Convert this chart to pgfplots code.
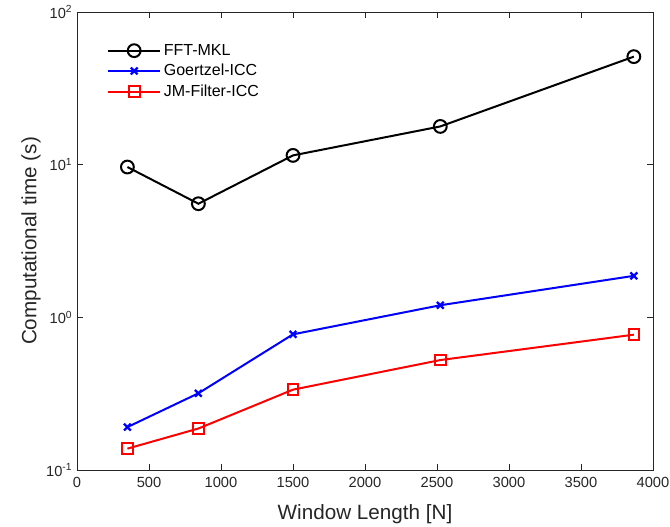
\documentclass[border=0pt]{standalone}
\usepackage{pgfplots}
\pgfplotsset{compat=1.18}
\usepackage{fontspec}
\setmainfont{Liberation Sans}
\definecolor{axgray}{RGB}{38,38,38}
\begin{document}
\begin{tikzpicture}
\begin{axis}[
  scale only axis,
  width=432pt, height=343.5pt,
  ymode=log, log basis y=10,
  xmin=0, xmax=4000, ymin=0.1, ymax=100,
  xtick={0,500,...,4000},
  ytick={0.1,1,10,100},
  yticklabels={10\textsuperscript{-1},10\textsuperscript{0},10\textsuperscript{1},10\textsuperscript{2}},
  /pgf/number format/assume math mode=true,
  /pgf/number format/1000 sep={},
  scaled x ticks=false,
  tick align=inside,
  major tick length=4.5pt, minor tick length=3pt,
  axis line style={axgray, line width=0.6pt},
  every tick/.style={axgray, line width=0.5pt},
  tick label style={font=\fontsize{11}{13}\selectfont, text=axgray},
  xticklabel style={yshift=-2pt},
  xlabel={Window Length [N]},
  ylabel={Computational time (s)},
  every axis x label/.style={at={(axis description cs:0.5,-0.107)}, anchor=base,
    font=\fontsize{15.5}{18}\selectfont, text=axgray},
  every axis y label/.style={at={(axis description cs:-0.08,0.5)}, rotate=90, anchor=center,
    font=\fontsize{15.5}{18}\selectfont, text=axgray},
  legend style={at={(axis description cs:0.045,0.942)}, anchor=north west, draw=none, fill=none,
    font=\fontsize{12}{14}\selectfont, text=black, row sep=1.25pt},
  legend cell align=left,
  legend image code/.code={\draw[mark repeat=2,mark phase=2,#1,line width=1.5pt] plot coordinates {(0pt,0pt) (19.5pt,0pt) (39pt,0pt)};},
]
\addplot[black, line width=1.5pt, mark=o, mark size=4.8pt, mark options={line width=1.5pt}] coordinates {
(350,9.65) (843,5.55) (1500,11.5) (2523,17.8) (3867,51)
};
\addlegendentry{FFT-MKL}
\addplot[blue, line width=1.5pt, mark=x, mark size=3.6pt, mark options={line width=1.7pt}] coordinates {
(350,0.191) (843,0.318) (1500,0.774) (2523,1.20) (3867,1.87)
};
\addlegendentry{Goertzel-ICC}
\addplot[red, line width=1.5pt, mark=square, mark size=4pt, mark options={line width=1.5pt}] coordinates {
(350,0.138) (843,0.187) (1500,0.336) (2523,0.525) (3867,0.77)
};
\addlegendentry{JM-Filter-ICC}
\end{axis}
\pgfresetboundingbox
\path ([shift={(-57.75pt,-42.75pt)}]current axis.south west) rectangle ([shift={(12.75pt,9pt)}]current axis.north east);
\end{tikzpicture}
\end{document}
